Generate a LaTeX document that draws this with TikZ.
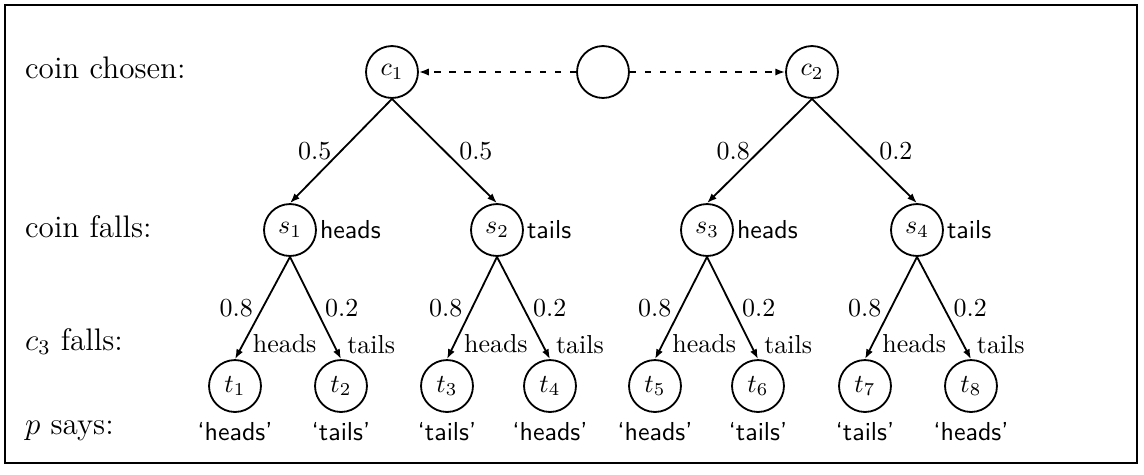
\documentclass[tikz,border=0pt]{standalone}
\usepackage{amsmath,amssymb}
\usepackage{tikz}
\usetikzlibrary{arrows.meta,positioning}

\tikzset{
  state/.style={circle,draw,line width=0.7pt,minimum size=20pt,inner sep=0pt},
  rowlabel/.style={anchor=base west,font=\large},
  outcome/.style={right=0pt of #1,font=\sffamily,inner sep=1pt},
  says/.style={below=0pt of #1,font=\sffamily},
}

\begin{document}
\begin{tikzpicture}[x=0.385pt,y=-0.385pt]
		\useasboundingbox (0,0) rectangle (1144,474);
		\draw[line width=0.8pt] (5,5) rectangle (1137,463);
		%
		\node[rowlabel] (Lchosen) at (16,78) {coin chosen:};
		\node[rowlabel] (Lfalls) at (16,237) {coin falls:};
		\node[rowlabel] (Lthird) at (16,350) {$c_3$ falls:};
		\node[rowlabel] (Lsays) at (16,434) {$p$ says:};
		%
		\node[state] (c1) at (392,72) {$c_1$};
		\node[state] (c0) at (603,72) {};
		\node[state] (c2) at (812,72) {$c_2$};
		%
		\node[state] (s1) at (290,230) {$s_1$};
		\node[state] (s2) at (497,230) {$s_2$};
		\node[state] (s3) at (707,230) {$s_3$};
		\node[state] (s4) at (917,230) {$s_4$};
		\node[outcome=s1] (o1) {heads};
		\node[outcome=s2] (o2) {tails};
		\node[outcome=s3] (o3) {heads};
		\node[outcome=s4] (o4) {tails};
		%
		\node[state] (t1) at (235,386) {$t_1$};
		\node[state] (t2) at (341,386) {$t_2$};
		\node[state] (t3) at (447,386) {$t_3$};
		\node[state] (t4) at (550,386) {$t_4$};
		\node[state] (t5) at (655,386) {$t_5$};
		\node[state] (t6) at (758,386) {$t_6$};
		\node[state] (t7) at (865,386) {$t_7$};
		\node[state] (t8) at (971,386) {$t_8$};
		%
		\node[says=t1] (p1) {\textquoteleft heads\textquoteright};
		\node[says=t2] (p2) {\textquoteleft tails\textquoteright};
		\node[says=t3] (p3) {\textquoteleft tails\textquoteright};
		\node[says=t4] (p4) {\textquoteleft heads\textquoteright};
		\node[says=t5] (p5) {\textquoteleft heads\textquoteright};
		\node[says=t6] (p6) {\textquoteleft tails\textquoteright};
		\node[says=t7] (p7) {\textquoteleft tails\textquoteright};
		\node[says=t8] (p8) {\textquoteleft heads\textquoteright};
		%
		\path[dash pattern=on 2.4pt off 3.4pt,line width=0.7pt,-{Latex[length=3.8pt,width=2.8pt]}]
		(c0) edge (c1)
		(c0) edge (c2);
		%
		\path[line width=0.7pt,-{Latex[length=3.8pt,width=2.8pt]}]
		(c1.south) edge node[left]{0.5} (s1.north)
		(c1.south) edge node[right,xshift=2pt]{0.5} (s2.north)
		(c2.south) edge node[left]{0.8} (s3.north)
		(c2.south) edge node[right,xshift=2pt]{0.2} (s4.north);
		%
		\path[line width=0.7pt,-{Latex[length=3.8pt,width=2.8pt]}]
		(s1.south) edge node[left]{0.8} node[pos=.85,right]{heads} (t1.north)
		(s1.south) edge node[right]{0.2} node[pos=.86,right,xshift=1.5pt]{tails} (t2.north)
		(s2.south) edge node[left]{0.8} node[pos=.85,right]{heads} (t3.north)
		(s2.south) edge node[right]{0.2} node[pos=.86,right,xshift=1.5pt]{tails} (t4.north)
		(s3.south) edge node[left]{0.8} node[pos=.85,right]{heads} (t5.north)
		(s3.south) edge node[right]{0.2} node[pos=.86,right,xshift=1.5pt]{tails} (t6.north)
		(s4.south) edge node[left]{0.8} node[pos=.85,right]{heads} (t7.north)
		(s4.south) edge node[right]{0.2} node[pos=.86,right,xshift=1.5pt]{tails} (t8.north);
		\end{tikzpicture}
\end{document}
